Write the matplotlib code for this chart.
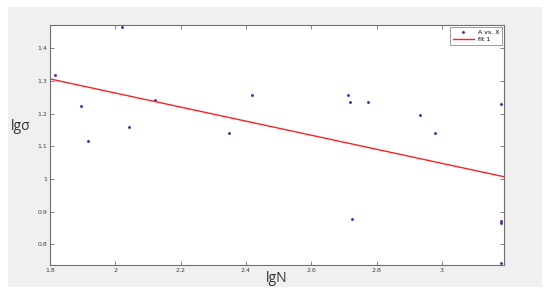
import numpy as np
import matplotlib.pyplot as plt


# =====================================
# DATA
# =====================================

lgN = [1.815, 1.895, 1.915, 2.019, 2.041, 2.121, 2.349, 2.417,
       2.711, 2.718, 2.726, 2.774, 2.933, 2.978, 3.182, 3.182,
       3.182, 3.182]
lgsigma = [1.318, 1.224, 1.117, 1.466, 1.160, 1.242, 1.140, 1.257,
           1.257, 1.237, 0.878, 1.235, 1.196, 1.142, 1.230, 0.872,
           0.865, 0.744]

fit_x = [1.8, 3.19]
fit_y = [1.306, 1.007]

xticks = [1.8, 2, 2.2, 2.4, 2.6, 2.8, 3]
xtick_labels = ["1.8", "2", "2.2", "2.4", "2.6", "2.8", "3"]
yticks = [0.8, 0.9, 1, 1.1, 1.2, 1.3, 1.4]
ytick_labels = ["0.8", "0.9", "1", "1.1", "1.2", "1.3", "1.4"]


# =====================================
# Figure
# =====================================

fig = plt.figure(figsize=(5.5, 2.95), dpi=100)
fig.patch.set_facecolor("white")

# gray window background behind the axes
bg = fig.add_axes([8 / 550, 1 - 287 / 295, 534 / 550, 280 / 295], zorder=-5)
bg.set_facecolor("#f0f0f0")
bg.set_xticks([])
bg.set_yticks([])
for s in bg.spines.values():
    s.set_visible(False)

ax = fig.add_axes([50 / 550, 1 - 265 / 295, 454 / 550, 240 / 295], zorder=1)
ax.set_facecolor("white")

ax.plot(
    lgN, lgsigma,
    linestyle="none", marker="o", markersize=1.1,
    color="#5a2a9a", label="A vs. X"
)

ax.plot(
    fit_x, fit_y,
    color="#ff2020", linewidth=1.0, label="fit 1"
)

ax.set_xlim(1.8, 3.19)
ax.set_ylim(0.737, 1.471)

ax.set_xticks(xticks)
ax.set_xticklabels(xtick_labels)
ax.set_yticks(yticks)
ax.set_yticklabels(ytick_labels)

ax.tick_params(
    direction="in", length=3, width=0.6, color="#707070",
    labelsize=4.5, labelcolor="#404040", pad=2,
    top=True, right=True
)

for s in ax.spines.values():
    s.set_color("#707070")
    s.set_linewidth(0.8)

fig.text(
    21 / 550, 1 - 127 / 295, "lgσ",
    fontsize=10, color="#303030", ha="center", va="center",
    family="Open Sans"
)
fig.text(
    277 / 550, 1 - 278 / 295, "lgN",
    fontsize=10, color="#303030", ha="center", va="center",
    family="Open Sans"
)

leg = ax.legend(
    loc="upper right", fontsize=4.5, frameon=True, fancybox=False,
    handlelength=3.5, borderpad=0.4, labelspacing=0.3,
    borderaxespad=0.3, handletextpad=0.6, markerscale=1.0
)
leg.get_frame().set_edgecolor("#707070")
leg.get_frame().set_linewidth(0.6)

fig.savefig("out.png", dpi=100)
